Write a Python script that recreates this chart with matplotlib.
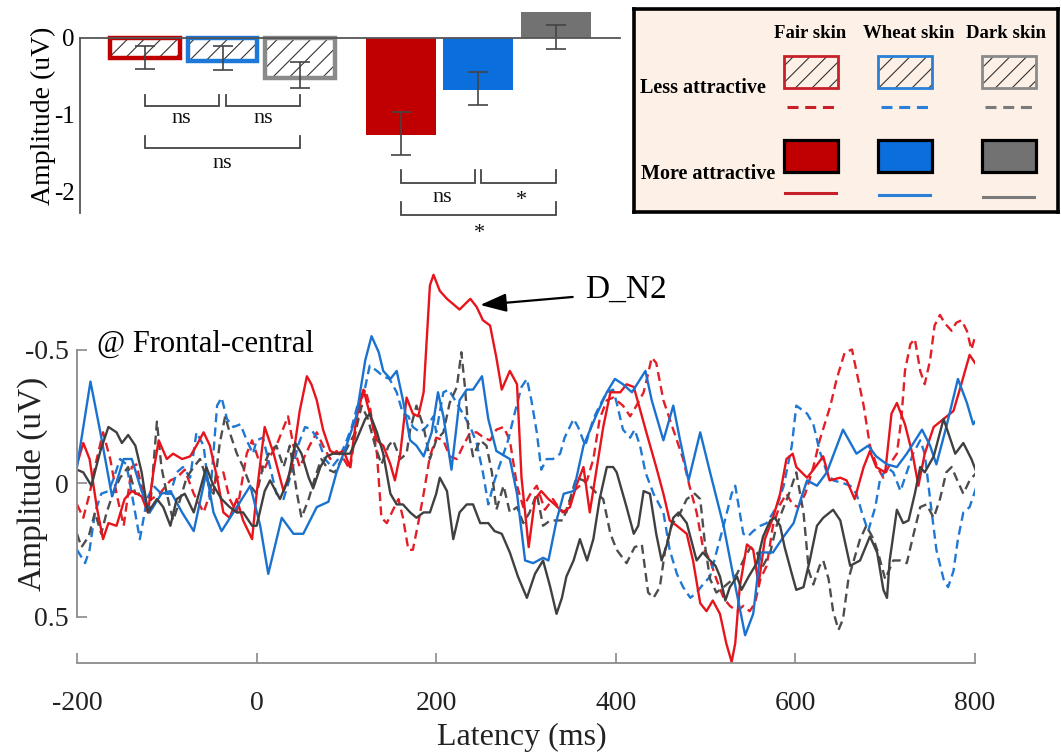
import numpy as np
import matplotlib
matplotlib.use('Agg')
import matplotlib.pyplot as plt
from matplotlib.patches import Rectangle
from matplotlib.lines import Line2D

plt.rcParams['font.family'] = ['Liberation Serif', 'DejaVu Serif']
plt.rcParams['hatch.linewidth'] = 0.8
plt.rcParams['axes.unicode_minus'] = False

# ---------------- bar chart data ----------------
skins = ['Fair skin', 'Wheat skin', 'Dark skin']
less_mean = [-0.26, -0.30, -0.52]
less_err_lo = [-0.40, -0.42, -0.65]
less_err_hi = [-0.11, -0.11, -0.31]
more_mean = [-1.27, -0.68, 0.34]
more_err_lo = [-1.53, -0.87, -0.14]
more_err_hi = [-0.97, -0.44, 0.17]
bar_yticks = [0, -1, -2]

# ---------------- ERP waveform data (latency ms, amplitude uV) ----------------
fm_t = [-200, -193, -186, -178, -171, -165, -156, -147, -139, -128, -121, -115, -109, -100, -93, -83, -74, -67,
        -59, -52, -44, -37, -30, -22, -15, -5, 0, 9, 19, 30, 39, 48, 56, 61, 67, 74, 82, 89, 97, 104, 111, 119,
        126, 134, 141, 149, 154, 160, 167, 174, 180, 186, 193, 197, 204, 212, 219, 226, 238, 245, 252, 260, 267,
        273, 282, 290, 295, 303, 310, 317, 325, 332, 341, 349, 356, 364, 371, 379, 386, 394, 405, 412, 420, 425,
        434, 445, 453, 460, 468, 479, 486, 494, 501, 508, 516, 523, 529, 533, 538, 546, 553, 559, 566, 575, 583,
        590, 597, 601, 613, 620, 631, 638, 650, 657, 666, 676, 683, 690, 700, 707, 713, 722, 731, 737, 744, 754,
        765, 776, 783, 794, 802]
fm_v = [-0.07, -0.15, -0.09, 0.09, 0.21, 0.15, 0.16, 0.06, 0.03, 0.05, 0.11, -0.04, -0.16, -0.09, -0.11, -0.09,
        -0.10, -0.14, -0.19, -0.14, -0.02, 0.11, 0.13, 0.06, 0.14, 0.21, 0.04, -0.21, -0.11, 0.03, -0.06, -0.27,
        -0.40, -0.37, -0.31, -0.20, -0.12, -0.11, -0.12, -0.06, -0.24, -0.35, -0.26, -0.16, -0.14, -0.07, -0.01,
        -0.11, -0.32, -0.26, -0.25, -0.34, -0.74, -0.78, -0.72, -0.69, -0.67, -0.65, -0.69, -0.66, -0.61, -0.59,
        -0.47, -0.35, -0.42, -0.37, -0.02, 0.24, 0.06, 0.03, 0.06, 0.08, 0.11, 0.09, 0.01, -0.06, 0.11, -0.06,
        -0.21, -0.34, -0.34, -0.37, -0.36, -0.30, -0.19, -0.06, 0.04, 0.14, 0.16, 0.19, 0.29, 0.45, 0.48, 0.44,
        0.49, 0.60, 0.67, 0.60, 0.39, 0.23, 0.25, 0.38, 0.21, 0.13, 0.04, -0.09, -0.11, -0.06, -0.02, -0.05,
        -0.10, -0.01, -0.02, -0.01, 0.06, -0.06, -0.12, -0.06, -0.04, -0.26, -0.30, -0.22, -0.10, 0.01, -0.11,
        -0.21, -0.24, -0.27, -0.35, -0.48, -0.44]

wm_t = [-200, -185, -174, -161, -148, -139, -128, -119, -106, -96, -83, -70, -56, -48, -39, -22, -7, 4, 13, 28,
        41, 52, 67, 80, 89, 100, 111, 121, 128, 136, 141, 149, 156, 163, 171, 178, 186, 195, 202, 208, 217, 226,
        234, 241, 251, 258, 267, 282, 290, 299, 308, 319, 325, 334, 342, 353, 364, 379, 390, 399, 408, 418, 433,
        440, 453, 464, 471, 481, 494, 505, 520, 531, 544, 553, 561, 575, 587, 598, 606, 613, 624, 635, 653, 668,
        681, 690, 702, 713, 724, 741, 750, 757, 768, 781, 791, 798, 804]
wm_v = [-0.06, -0.38, -0.19, 0.05, -0.09, -0.09, 0.03, 0.11, 0.04, 0.03, 0.11, 0.18, -0.04, 0.11, 0.18, 0.09,
        0.01, 0.16, 0.34, 0.13, 0.19, 0.19, 0.09, 0.07, -0.04, -0.14, -0.25, -0.46, -0.55, -0.49, -0.42, -0.39,
        -0.42, -0.31, -0.16, -0.14, -0.10, -0.19, -0.34, -0.25, -0.05, -0.31, -0.35, -0.35, -0.40, -0.24, -0.12,
        -0.09, 0.04, 0.29, 0.30, 0.28, 0.29, 0.14, 0.04, 0.03, -0.14, -0.26, -0.34, -0.39, -0.37, -0.34, -0.42,
        -0.31, -0.16, -0.29, -0.17, -0.01, -0.19, -0.04, 0.16, 0.35, 0.57, 0.49, 0.26, 0.26, 0.20, 0.15, 0.06,
        -0.01, 0.01, -0.04, -0.20, -0.11, -0.14, -0.10, -0.07, -0.06, -0.11, -0.20, -0.14, -0.07, -0.21, -0.39,
        -0.30, -0.22, -0.25]

dm_t = [-200, -193, -184, -174, -165, -156, -150, -143, -135, -128, -121, -111, -104, -96, -89, -80, -70, -61,
        -56, -48, -39, -30, -22, -15, -5, 0, 9, 15, 26, 35, 43, 50, 58, 63, 71, 78, 85, 104, 111, 121, 126, 134,
        141, 149, 156, 163, 171, 178, 186, 193, 200, 204, 212, 219, 226, 234, 241, 249, 258, 265, 273, 282, 291,
        301, 310, 319, 327, 334, 340, 345, 353, 360, 368, 375, 382, 390, 397, 401, 412, 420, 425, 431, 438, 445,
        451, 457, 464, 470, 479, 490, 497, 505, 511, 516, 522, 527, 535, 540, 548, 557, 564, 572, 577, 583, 588,
        596, 601, 609, 616, 624, 631, 642, 650, 661, 672, 683, 691, 698, 702, 705, 713, 720, 726, 733, 739, 744,
        754, 765, 772, 778, 787, 796, 804]
dm_v = [-0.05, -0.04, 0.01, -0.12, -0.21, -0.19, -0.15, -0.18, -0.14, -0.04, 0.11, 0.06, 0.09, 0.16, 0.06, 0.04,
        0.11, 0.00, -0.06, 0.01, 0.06, 0.09, 0.11, 0.11, 0.16, 0.16, 0.03, -0.01, 0.06, -0.01, -0.15, -0.11, -0.02,
        0.02, -0.06, -0.10, -0.11, -0.11, -0.16, -0.24, -0.26, -0.19, -0.11, 0.04, 0.08, 0.08, 0.11, 0.13, 0.11,
        0.11, 0.04, -0.02, 0.03, 0.21, 0.11, 0.08, 0.08, 0.15, 0.15, 0.18, 0.19, 0.26, 0.35, 0.43, 0.34, 0.29,
        0.39, 0.49, 0.43, 0.35, 0.29, 0.21, 0.29, 0.21, 0.06, -0.06, -0.06, -0.04, 0.09, 0.19, 0.16, 0.03, 0.04,
        0.19, 0.29, 0.23, 0.13, 0.11, 0.15, 0.29, 0.26, 0.29, 0.31, 0.35, 0.44, 0.39, 0.35, 0.40, 0.35, 0.30, 0.20,
        0.14, 0.13, 0.16, 0.24, 0.34, 0.40, 0.39, 0.29, 0.16, 0.13, 0.10, 0.14, 0.31, 0.29, 0.20, 0.26, 0.40, 0.43,
        0.29, 0.10, 0.15, 0.14, 0.04, -0.06, -0.04, -0.10, -0.24, -0.17, -0.11, -0.15, -0.09, -0.02]

fl_t = [-200, -193, -186, -178, -171, -163, -156, -148, -139, -134, -126, -117, -108, -96, -89, -80, -70, -59,
        -52, -44, -37, -30, -22, -11, -5, 0, 7, 15, 22, 35, 41, 48, 59, 67, 74, 82, 89, 97, 104, 115, 121, 126, 134,
        139, 145, 152, 158, 163, 169, 174, 180, 186, 193, 200, 208, 215, 223, 230, 238, 245, 253, 260, 267, 275,
        282, 290, 297, 305, 312, 321, 330, 338, 345, 353, 360, 368, 375, 382, 390, 397, 408, 416, 423, 431, 436,
        440, 445, 453, 460, 468, 475, 482, 490, 497, 505, 512, 520, 527, 535, 542, 549, 555, 561, 568, 575, 583,
        590, 597, 603, 611, 620, 627, 639, 646, 655, 663, 668, 676, 683, 691, 698, 705, 713, 718, 722, 728, 733,
        739, 744, 750, 755, 761, 766, 774, 779, 785, 791, 796, 802]
fl_v = [0.08, 0.13, 0.04, -0.09, -0.19, -0.09, 0.04, 0.16, -0.06, -0.07, 0.04, 0.06, 0.04, -0.01, -0.02, -0.05,
        0.04, 0.11, 0.04, -0.02, -0.04, 0.06, 0.11, -0.11, -0.16, -0.11, -0.04, -0.10, -0.14, -0.25, -0.14, -0.06,
        -0.14, -0.19, -0.14, -0.09, -0.12, -0.09, -0.05, -0.30, -0.35, -0.29, -0.11, 0.13, 0.15, 0.10, 0.06, 0.13,
        0.25, 0.25, 0.15, 0.04, -0.10, -0.17, -0.16, -0.10, -0.09, -0.14, -0.19, -0.19, -0.17, -0.16, -0.20, -0.21,
        -0.16, 0.01, 0.09, 0.04, 0.01, 0.10, 0.06, 0.10, 0.11, 0.03, 0.01, -0.01, -0.09, -0.24, -0.31, -0.32,
        -0.29, -0.25, -0.29, -0.34, -0.41, -0.47, -0.45, -0.31, -0.24, -0.16, -0.09, 0.01, 0.11, 0.24, 0.29, 0.36,
        0.43, 0.46, 0.48, 0.46, 0.48, 0.45, 0.36, 0.31, 0.16, 0.08, 0.04, 0.08, 0.09, 0.04, -0.06, -0.16, -0.29,
        -0.39, -0.49, -0.50, -0.42, -0.29, -0.14, -0.06, -0.02, -0.07, -0.11, -0.24, -0.42, -0.52, -0.54, -0.42,
        -0.37, -0.46, -0.59, -0.63, -0.60, -0.57, -0.60, -0.61, -0.57, -0.50, -0.57]

wl_t = [-200, -191, -186, -180, -173, -165, -160, -152, -145, -139, -130, -122, -115, -106, -96, -89, -82, -74,
        -67, -59, -52, -44, -39, -33, -26, -18, -11, -4, 0, 7, 15, 22, 30, 39, 46, 54, 61, 69, 76, 84, 91, 98, 106,
        113, 121, 126, 134, 141, 148, 156, 163, 169, 174, 182, 189, 197, 200, 208, 214, 221, 228, 238, 245, 252,
        258, 265, 273, 280, 288, 295, 301, 306, 312, 317, 323, 330, 338, 343, 353, 358, 366, 375, 382, 390, 397,
        401, 408, 416, 421, 427, 433, 442, 453, 460, 468, 475, 483, 490, 497, 505, 512, 520, 529, 533, 538, 542,
        547, 553, 561, 568, 579, 587, 596, 601, 613, 620, 627, 635, 642, 653, 661, 668, 674, 681, 689, 694, 702,
        709, 717, 724, 731, 739, 744, 750, 757, 765, 770, 776, 781, 787, 794, 802]
wl_v = [0.25, 0.30, 0.25, 0.11, 0.04, 0.03, -0.01, -0.09, -0.07, 0.04, 0.21, 0.06, 0.01, 0.04, 0.04, -0.04,
        -0.06, -0.02, -0.19, -0.14, 0.06, -0.29, -0.32, -0.24, -0.21, -0.22, -0.16, -0.11, -0.16, -0.17, -0.06,
        0.04, 0.06, -0.04, -0.14, -0.21, -0.20, -0.16, -0.09, -0.06, -0.09, -0.14, -0.21, -0.30, -0.36, -0.44,
        -0.42, -0.40, -0.39, -0.34, -0.26, -0.25, -0.21, -0.19, -0.21, -0.25, -0.19, -0.34, -0.35, -0.31, -0.27,
        -0.21, -0.15, -0.04, 0.08, -0.01, -0.09, -0.16, -0.27, -0.36, -0.39, -0.31, -0.19, -0.05, -0.09, -0.09,
        -0.11, -0.17, -0.24, -0.21, -0.14, -0.24, -0.29, -0.34, -0.35, -0.30, -0.20, -0.17, -0.20, -0.14, -0.04,
        0.04, 0.11, 0.25, 0.34, 0.39, 0.43, 0.41, 0.38, 0.35, 0.26, 0.16, 0.04, 0.01, 0.11, 0.19, 0.20, 0.18,
        0.16, 0.15, 0.09, 0.01, -0.14, -0.29, -0.26, -0.22, -0.12, -0.04, -0.01, 0.00, 0.01, 0.04, 0.11, 0.18,
        0.09, -0.01, -0.06, -0.04, 0.03, -0.04, -0.11, -0.16, -0.11, 0.06, 0.25, 0.36, 0.39, 0.33, 0.21, 0.11,
        0.09, 0.01]

dl_t = [-200, -195, -187, -180, -173, -167, -160, -152, -143, -135, -128, -119, -111, -106, -100, -93, -85, -78,
        -70, -63, -56, -48, -41, -35, -30, -22, -15, -7, 0, 7, 15, 22, 30, 37, 45, 50, 58, 65, 72, 80, 87, 95, 102,
        110, 117, 124, 132, 139, 147, 152, 160, 167, 171, 178, 186, 193, 200, 208, 215, 223, 228, 232, 236, 241,
        249, 256, 262, 267, 275, 282, 290, 297, 304, 312, 319, 327, 334, 341, 349, 356, 364, 371, 379, 386, 394,
        401, 412, 421, 429, 436, 442, 449, 455, 462, 472, 479, 488, 494, 500, 505, 512, 520, 527, 535, 542, 550,
        557, 564, 572, 579, 587, 594, 601, 609, 615, 620, 627, 631, 637, 642, 648, 653, 659, 665, 672, 679, 687,
        692, 700, 709, 717, 724, 731, 739, 746, 754, 761, 768, 774, 779, 787, 794, 802]
dl_v = [0.19, 0.24, 0.20, 0.11, 0.19, 0.11, 0.04, -0.02, -0.06, 0.04, 0.04, 0.11, -0.23, -0.06, 0.04, 0.14,
        0.06, -0.02, -0.06, -0.09, -0.02, 0.04, -0.15, -0.25, -0.19, -0.11, -0.06, 0.01, 0.04, -0.06, -0.12,
        -0.14, -0.06, -0.14, 0.04, 0.13, 0.06, -0.02, -0.09, -0.05, -0.04, -0.09, -0.14, -0.19, -0.29, -0.24,
        -0.14, -0.07, -0.14, -0.16, -0.09, -0.11, -0.20, -0.29, -0.21, -0.09, -0.16, -0.19, -0.30, -0.36, -0.49,
        -0.36, -0.19, -0.10, -0.16, -0.14, -0.04, 0.10, 0.01, 0.11, 0.09, 0.15, 0.11, 0.04, 0.16, 0.14, 0.14,
        0.14, 0.06, -0.02, -0.01, 0.01, 0.04, 0.06, 0.19, 0.25, 0.30, 0.24, 0.23, 0.41, 0.43, 0.39, 0.25, 0.16,
        0.11, 0.06, 0.04, 0.06, 0.25, 0.36, 0.41, 0.39, 0.37, 0.34, 0.29, 0.24, 0.26, 0.31, 0.26, 0.16, 0.09,
        0.03, -0.04, 0.11, 0.33, 0.38, 0.31, 0.29, 0.36, 0.48, 0.55, 0.51, 0.36, 0.29, 0.21, 0.16, 0.21, 0.26,
        0.36, 0.29, 0.29, 0.30, 0.20, 0.09, 0.08, 0.13, 0.06, -0.04, -0.06, -0.02, 0.04, -0.01, -0.04]

erp_xticks = [-200, 0, 200, 400, 600, 800]
erp_yticks = [-0.5, 0, 0.5]

# ---------------- colours ----------------
bar_fill = ['#c00000', '#0a6fdc', '#727272']
less_edge = ['#c00000', '#1e78d8', '#8a8a8a']
erp_col = ['#e8141c', '#1a72d0', '#404040']
erp_dash_col = ['#e41e26', '#1f78d4', '#4d4d4d']
legend_less_edge = ['#c8202a', '#2a7fd6', '#8a8a8a']
legend_line_col = ['#c8202a', '#2a7fd6', '#7a7a7a']

W, H = 1061, 754
fig = plt.figure(figsize=(W / 100, H / 100), dpi=100)

# ================= bar chart =================
ax1 = fig.add_axes([80 / W, 1 - 213 / H, 540 / W, 205 / H])
x_less = np.arange(3)
x_more = np.arange(3) + 3.3
bw = 0.9
ax1.bar(x_less, less_mean, width=bw, color='white', hatch='//', edgecolor='#333333', linewidth=0, zorder=2)
ax1.bar(x_less, less_mean, width=bw, fill=False, edgecolor=less_edge, linewidth=3.2, zorder=3)
ax1.bar(x_more, more_mean, width=bw, color=bar_fill, linewidth=0, zorder=2)

lc = np.array(less_err_lo); hc = np.array(less_err_hi)
ax1.errorbar(x_less, (lc + hc) / 2, yerr=(hc - lc) / 2, fmt='none', ecolor='#444444',
             elinewidth=1.2, capsize=7, capthick=1.2, zorder=4)
lc = np.array(more_err_lo); hc = np.array(more_err_hi)
ax1.errorbar(x_more, (lc + hc) / 2, yerr=(hc - lc) / 2, fmt='none', ecolor='#444444',
             elinewidth=1.2, capsize=7, capthick=1.2, zorder=4)

def bracket(ax, x1, x2, ytop, ybot, label, lx, ly, size=16):
    ax.plot([x1, x1, x2, x2], [ytop, ybot, ybot, ytop], color='#444444', lw=1.3, clip_on=False,
            solid_joinstyle='miter')
    ax.text(lx, ly, label, ha='center', va='center', fontsize=size, color='#111111')

bracket(ax1, 0.0, 0.96, -0.74, -0.89, 'ns', 0.47, -1.05)
bracket(ax1, 1.04, 2.0, -0.74, -0.89, 'ns', 1.52, -1.05)
bracket(ax1, 0.0, 2.0, -1.28, -1.43, 'ns', 1.0, -1.64)
bracket(ax1, 3.3, 4.26, -1.72, -1.89, 'ns', 3.84, -2.08)
bracket(ax1, 4.34, 5.3, -1.72, -1.89, '*', 4.86, -2.12)
bracket(ax1, 3.3, 5.3, -2.14, -2.30, '*', 4.32, -2.55)

ax1.set_xlim(-0.84, 6.13)
ax1.set_ylim(-2.28, 0.39)
ax1.spines['top'].set_visible(False)
ax1.spines['right'].set_visible(False)
ax1.spines['bottom'].set_position(('data', 0))
ax1.spines['left'].set_bounds(-2.28, 0)
for s in ['left', 'bottom']:
    ax1.spines[s].set_color('#555555')
    ax1.spines[s].set_linewidth(1.3)
ax1.spines['bottom'].set_zorder(5)
ax1.set_xticks([])
ax1.set_yticks(bar_yticks)
ax1.set_yticklabels([str(v) for v in bar_yticks])
ax1.tick_params(axis='y', length=0, pad=4, labelsize=18)
ax1.patch.set_alpha(0)
fig.text(43 / W, 1 - 116 / H, 'Amplitude (uV)', rotation=90, ha='center', va='center',
         fontsize=20, rotation_mode='anchor')

# ================= legend box =================
lg = fig.add_axes([634 / W, 1 - 212 / H, 424 / W, 203 / H])
lg.set_xlim(0, 424)
lg.set_ylim(203, 0)
lg.set_facecolor('#fdf0e6')
lg.set_xticks([]); lg.set_yticks([])
for s in lg.spines.values():
    s.set_linewidth(2.6)
    s.set_color('black')
hdr_x = [176, 275, 372]
for name, hx in zip(skins, hdr_x):
    lg.text(hx, 25, name, ha='center', va='center', fontsize=13.5, fontweight='bold')
lg.text(69, 79, 'Less attractive', ha='center', va='center', fontsize=14.5, fontweight='bold')
lg.text(74, 165, 'More attractive', ha='center', va='center', fontsize=14.5, fontweight='bold')
rect_x = [150, 244, 348]
for i, rx in enumerate(rect_x):
    lg.add_patch(Rectangle((rx, 47), 54, 32, fill=False, hatch='//', edgecolor='#333333', linewidth=0))
    lg.add_patch(Rectangle((rx, 47), 54, 32, fill=False, edgecolor=legend_less_edge[i], linewidth=2))
    lg.add_line(Line2D([rx + 3, rx + 52], [98, 98], color=legend_line_col[i], lw=2.2,
                       dashes=(3.6, 2.2)))
    lg.add_patch(Rectangle((rx, 131), 54, 32, facecolor=bar_fill[i], edgecolor='black', linewidth=2.3))
    lg.add_line(Line2D([rx + 1, rx + 52], [184 + 2 * i, 184 + 2 * i], color=legend_line_col[i], lw=2.2))

# ================= ERP waveforms =================
ax2 = fig.add_axes([77 / W, 1 - 663 / H, 898 / W, 393 / H])
series = [(fl_t, fl_v, 0, True), (wl_t, wl_v, 1, True), (dl_t, dl_v, 2, True),
          (fm_t, fm_v, 0, False), (wm_t, wm_v, 1, False), (dm_t, dm_v, 2, False)]
for t, v, ci, dashed in series:
    if dashed:
        ax2.plot(t, v, color=erp_dash_col[ci], lw=1.7, dashes=(3.8, 2.2))
    else:
        ax2.plot(t, v, color=erp_col[ci], lw=1.7)

ax2.set_xlim(-200, 800)
ax2.set_ylim(0.674, -0.798)
ax2.spines['top'].set_visible(False)
ax2.spines['right'].set_visible(False)
ax2.spines['left'].set_bounds(-0.5, 0.5)
for s in ['left', 'bottom']:
    ax2.spines[s].set_color('#8a8a8a')
    ax2.spines[s].set_linewidth(1.3)
ax2.set_xticks(erp_xticks)
ax2.set_xticklabels([str(v) for v in erp_xticks])
ax2.set_yticks(erp_yticks)
ax2.set_yticklabels(['-0.5', '0', '0.5'])
ax2.tick_params(axis='both', direction='in', length=7, width=1.2, color='#8a8a8a', labelsize=20,
                labelcolor='#222222')
ax2.tick_params(axis='x', pad=20)
ax2.tick_params(axis='y', pad=6)
ax2.patch.set_alpha(0)

fig.text(32 / W, 1 - 484 / H, 'Amplitude (uV)', rotation=90, ha='center', va='center',
         fontsize=24, rotation_mode='anchor', color='#222222')
fig.text(522 / W, 1 - 737 / H, 'Latency (ms)', ha='center', va='center', fontsize=23, color='#222222')

ax2.text(-178, -0.52, '@ Frontal-central', ha='left', va='center', fontsize=22)
ax2.text(366, -0.725, 'D_N2', ha='left', va='center', fontsize=24)
ax2.annotate('', xy=(249, -0.667), xytext=(352, -0.697),
             arrowprops=dict(arrowstyle='-|>,head_length=0.8,head_width=0.28', color='black', lw=1.6,
                             mutation_scale=20, shrinkA=0, shrinkB=0))

fig.savefig('out.png', dpi=100)
